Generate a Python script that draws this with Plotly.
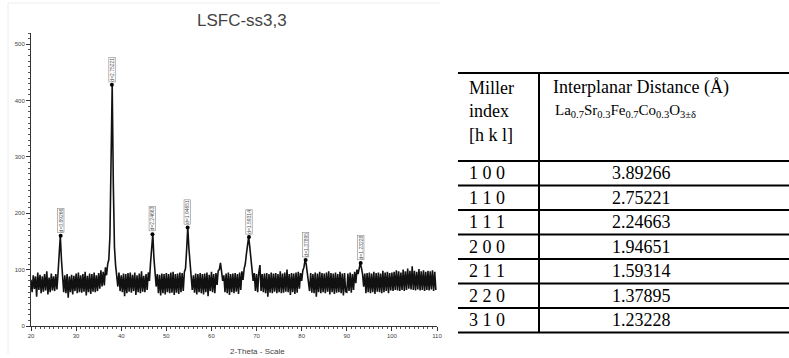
import plotly.graph_objects as go

W, H = 789, 358

# ---------------- data ----------------
two_theta_start = 20.0
two_theta_step = 0.25
counts = [
    82, 60, 90, 66, 88, 52, 95, 64, 91, 58, 88, 61, 92, 63, 97, 56, 86, 60, 93, 63,
    88, 62, 92, 65, 95, 128, 160, 118, 88, 60, 90, 58, 92, 50, 88, 60, 91, 56, 89, 62,
    93, 58, 95, 60, 90, 59, 92, 61, 96, 54, 89, 60, 93, 57, 92, 61, 95, 60, 90, 62,
    94, 66, 99, 70, 96, 72, 104, 90, 110, 118, 160, 300, 428, 250, 140, 108, 92, 70, 95, 62,
    90, 60, 93, 53, 92, 58, 94, 61, 95, 59, 91, 62, 95, 55, 90, 60, 93, 58, 97, 61,
    89, 60, 92, 64, 95, 80, 112, 135, 163, 120, 96, 70, 92, 58, 91, 54, 93, 58, 92, 56,
    94, 60, 92, 58, 95, 59, 96, 55, 92, 59, 93, 57, 95, 60, 94, 62, 96, 102, 135, 175,
    138, 110, 94, 64, 90, 59, 93, 56, 92, 60, 94, 58, 92, 56, 93, 60, 95, 53, 91, 62,
    96, 60, 92, 58, 94, 73, 98, 100, 112, 94, 80, 90, 60, 93, 58, 95, 55, 92, 60, 93,
    58, 94, 61, 92, 57, 95, 64, 97, 82, 102, 110, 128, 145, 158, 140, 118, 100, 80, 94, 62,
    92, 60, 95, 108, 62, 92, 60, 93, 58, 94, 52, 92, 59, 95, 58, 93, 61, 94, 58, 92,
    60, 97, 58, 93, 59, 95, 61, 100, 60, 92, 55, 94, 60, 93, 57, 95, 59, 96, 66, 94,
    80, 98, 104, 117, 110, 96, 82, 62, 94, 59, 92, 58, 95, 52, 93, 60, 96, 58, 94, 60,
    93, 58, 95, 61, 97, 56, 94, 60, 93, 57, 95, 59, 92, 60, 96, 58, 93, 54, 94, 61,
    60, 93, 62, 95, 59, 92, 64, 96, 76, 100, 92, 105, 112, 103, 92, 70, 93, 58, 94, 60,
    95, 58, 93, 60, 96, 57, 94, 61, 95, 60, 93, 58, 98, 60, 95, 62, 96, 58, 94, 63,
    95, 62, 96, 64, 99, 63, 97, 62, 95, 64, 100, 62, 97, 64, 102, 66, 98, 65, 106, 64,
    98, 63, 96, 65, 101, 63, 97, 64, 99, 62, 96, 64, 98, 63, 97, 65, 99, 62, 96, 64,
]
two_theta = [two_theta_start + two_theta_step * i for i in range(len(counts))]

peak_2theta = [26.57, 37.93, 46.92, 54.72, 68.32, 80.88, 93.08]
peak_counts = [160, 428, 163, 175, 158, 117, 112]
peak_labels = ["d=3.89266", "d=2.75221", "d=2.24663", "d=1.94651",
               "d=1.59314", "d=1.37895", "d=1.23228"]

miller = ["1 0 0", "1 1 0", "1 1 1", "2 0 0", "2 1 1", "2 2 0", "3 1 0"]
distance = ["3.89266", "2.75221", "2.24663", "1.94651", "1.59314", "1.37895", "1.23228"]

x_ticks = [20, 30, 40, 50, 60, 70, 80, 90, 100, 110]
y_ticks = [0, 100, 200, 300, 400, 500]

# ---------------- helpers ----------------
def px(x):
    return x / W

def py(y):
    return 1 - y / H

fig = go.Figure()
fig.add_trace(go.Scatter(x=two_theta, y=counts, mode="lines",
                         line=dict(color="#111111", width=1.6), hoverinfo="skip"))
fig.add_trace(go.Scatter(x=peak_2theta, y=peak_counts, mode="markers",
                         marker=dict(color="#000000", size=4), hoverinfo="skip"))

for xv, yv, lab in zip(peak_2theta, peak_counts, peak_labels):
    fig.add_annotation(x=xv, y=yv, xref="x", yref="y", text=lab, showarrow=False,
                       textangle=-90, yanchor="bottom", xanchor="center", yshift=3,
                       font=dict(family="Liberation Sans", size=5, color="#555555"),
                       bordercolor="#888888", borderwidth=0.6, borderpad=0)

axis_font = dict(family="Liberation Sans", size=6, color="#444444")
fig.update_xaxes(range=[20, 110], domain=[px(31), px(437)], tickvals=x_ticks,
                 ticks="outside", ticklen=4, tickwidth=1, tickcolor="#333",
                 showline=True, linecolor="#333", linewidth=1, showgrid=False,
                 zeroline=False, tickfont=axis_font, automargin=False,
                 minor=dict(dtick=1, ticks="outside", ticklen=2, tickcolor="#555"))
fig.update_yaxes(range=[0, 520], domain=[py(326), py(33)], tickvals=y_ticks,
                 ticks="outside", ticklen=4, tickwidth=1, tickcolor="#333",
                 showline=True, linecolor="#333", linewidth=1, showgrid=False,
                 zeroline=False, tickfont=axis_font, automargin=False,
                 minor=dict(dtick=10, ticks="outside", ticklen=2, tickcolor="#555"))

# chart title and axis label
fig.add_annotation(x=px(242), y=py(21), xref="paper", yref="paper", text="LSFC-ss3,3",
                   showarrow=False, xanchor="center", yanchor="middle",
                   font=dict(family="Liberation Sans", size=17, color="#444444"))
fig.add_annotation(x=px(257), y=py(351), xref="paper", yref="paper", text="2-Theta - Scale",
                   showarrow=False, xanchor="center", yanchor="middle",
                   font=dict(family="Liberation Sans", size=8, color="#444444"))

# faint chart frame
fig.add_shape(type="line", xref="paper", yref="paper", x0=px(8), x1=px(440), y0=py(3), y1=py(3),
              line=dict(color="#eeeeee", width=1))
fig.add_shape(type="line", xref="paper", yref="paper", x0=px(8), x1=px(8), y0=py(3), y1=py(354),
              line=dict(color="#eeeeee", width=1))

# ---------------- table ----------------
t_left, t_right, t_div = 458, 789, 539
header_top, header_bot, row_h = 73, 161, 24.5
line_ys = [header_top, header_bot] + [header_bot + row_h * (i + 1) for i in range(len(miller))]
for ly in line_ys:
    fig.add_shape(type="line", xref="paper", yref="paper", x0=px(t_left), x1=px(t_right),
                  y0=py(ly), y1=py(ly), line=dict(color="#000000", width=2))
fig.add_shape(type="line", xref="paper", yref="paper", x0=px(t_div), x1=px(t_div),
              y0=py(header_top), y1=py(line_ys[-1]), line=dict(color="#000000", width=2))

serif = "Liberation Serif"
for txt, yy in zip(["Miller", "index", "[h k l]"], [88, 111, 135]):
    fig.add_annotation(x=px(467), y=py(yy), xref="paper", yref="paper", text=txt,
                       showarrow=False, xanchor="left", yanchor="middle",
                       font=dict(family=serif, size=18, color="#000000"))
fig.add_annotation(x=px(551), y=py(88), xref="paper", yref="paper",
                   text="Interplanar Distance (Å)", showarrow=False, xanchor="left",
                   yanchor="middle", font=dict(family=serif, size=18, color="#000000"))
fig.add_annotation(x=px(553), y=py(111), xref="paper", yref="paper",
                   text="La<sub>0.7</sub>Sr<sub>0.3</sub>Fe<sub>0.7</sub>Co<sub>0.3</sub>O<sub>3±δ</sub>",
                   showarrow=False, xanchor="left", yanchor="middle",
                   font=dict(family=serif, size=15, color="#000000"))

for i, (m, d) in enumerate(zip(miller, distance)):
    yy = header_bot + row_h * (i + 0.5)
    fig.add_annotation(x=px(467), y=py(yy), xref="paper", yref="paper", text=m,
                       showarrow=False, xanchor="left", yanchor="middle",
                       font=dict(family=serif, size=18, color="#000000"))
    fig.add_annotation(x=px(641), y=py(yy), xref="paper", yref="paper", text=d,
                       showarrow=False, xanchor="center", yanchor="middle",
                       font=dict(family=serif, size=18, color="#000000"))

fig.update_layout(width=W, height=H, margin=dict(l=0, r=0, t=0, b=0),
                  paper_bgcolor="white", plot_bgcolor="white", showlegend=False)

fig.write_html("out.html", config={"displayModeBar": False},
               post_script="document.body.style.margin='0';document.body.style.overflow='hidden';")
